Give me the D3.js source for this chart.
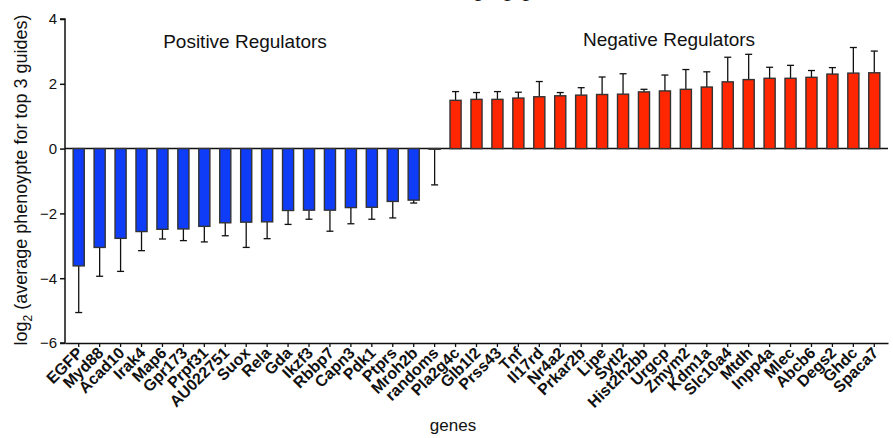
<!DOCTYPE html>
<html>
<head>
<meta charset="utf-8">
<script src="https://cdn.jsdelivr.net/npm/d3@7"></script>
<style>
  body { margin: 0; background: #fff; }
  text { font-family: "Liberation Sans", Arial, sans-serif; fill: #111; }
</style>
</head>
<body>
<div id="chart"></div>
<script>
// genes, ordered as in the plot
var genes = ["EGFP","Myd88","Acad10","Irak4","Map6","Gpr173","Prpf31","AU022751","Suox","Rela",
  "Gda","Ikzf3","Rbbp7","Capn3","Pdk1","Ptprs","Mroh2b","randoms",
  "Pla2g4c","Glb1l2","Prss43","Tnf","Il17rd","Nr4a2","Prkar2b","Lipe","Sytl2","Hist2h2bb",
  "Urgcp","Zmym2","Kdm1a","Slc10a4","Mtdh","Inpp4a","Mlec","Abcb6","Degs2","Ghdc","Spaca7"];
// mean log2 phenotype
var means = [-3.62,-3.05,-2.77,-2.56,-2.49,-2.48,-2.40,-2.29,-2.27,-2.26,
  -1.91,-1.90,-1.90,-1.82,-1.81,-1.63,-1.59,-0.02,
  1.49,1.52,1.52,1.56,1.60,1.63,1.65,1.67,1.68,1.75,
  1.78,1.83,1.90,2.06,2.13,2.17,2.17,2.20,2.30,2.33,2.34];
// error bar end (mean + sd, away from zero)
var errEnds = [-5.06,-3.94,-3.79,-3.15,-2.79,-2.84,-2.88,-2.69,-3.05,-2.78,
  -2.34,-2.18,-2.55,-2.32,-2.18,-2.14,-1.68,-1.12,
  1.76,1.73,1.76,1.74,2.07,1.73,1.88,2.21,2.31,1.83,
  2.27,2.44,2.37,2.82,2.91,2.51,2.57,2.41,2.50,3.12,3.01];
var yTicks = [-6,-4,-2,0,2,4];

(function () {
  var width = 893, height = 438;
  var left = 65, right = 888, top = 19, bottom = 343;

  var data = genes.map(function (g, i) { return { gene: g, mean: means[i], err: errEnds[i] }; });

  var svg = d3.select("#chart").append("svg").attr("width", width).attr("height", height);

  var x = d3.scaleBand().domain(genes).range([left, right]).paddingInner(0.47).paddingOuter(0.39);
  var y = d3.scaleLinear().domain([-6, 4]).range([bottom, top]);

  // title (clipped at top of the frame)
  svg.append("text").attr("x", 500).attr("y", -4).attr("text-anchor", "middle")
    .style("font-size", "22px").text("Averaging guides");

  // zero line
  svg.append("line").attr("x1", left).attr("x2", right).attr("y1", y(0)).attr("y2", y(0))
    .attr("stroke", "#111").attr("stroke-width", 1.5);

  // error bars
  var eb = svg.append("g").attr("stroke", "#111").attr("stroke-width", 1.3);
  eb.selectAll("line.v").data(data).join("line").attr("class", "v")
    .attr("x1", function (d) { return x(d.gene) + x.bandwidth() / 2; })
    .attr("x2", function (d) { return x(d.gene) + x.bandwidth() / 2; })
    .attr("y1", function (d) { return y(d.mean); })
    .attr("y2", function (d) { return y(d.err); });
  eb.selectAll("line.cap").data(data).join("line").attr("class", "cap")
    .attr("x1", function (d) { return x(d.gene) + x.bandwidth() / 2 - 3.5; })
    .attr("x2", function (d) { return x(d.gene) + x.bandwidth() / 2 + 3.5; })
    .attr("y1", function (d) { return y(d.err); })
    .attr("y2", function (d) { return y(d.err); });

  // bars
  svg.append("g").selectAll("rect").data(data).join("rect")
    .attr("x", function (d) { return x(d.gene); })
    .attr("width", x.bandwidth())
    .attr("y", function (d) { return y(Math.max(0, d.mean)); })
    .attr("height", function (d) { return Math.abs(y(d.mean) - y(0)); })
    .attr("fill", function (d) { return d.mean < 0 ? "#0f3cf7" : "#ff2600"; })
    .attr("stroke", "#333").attr("stroke-width", 1.4);

  // y axis
  var yAxis = svg.append("g").attr("transform", "translate(" + left + ",0)")
    .call(d3.axisLeft(y).tickValues(yTicks).tickSize(5).tickPadding(3).tickFormat(d3.format("d")));
  yAxis.select(".domain").attr("stroke", "#111").attr("stroke-width", 1.5).attr("d", "M-5," + top + "H0V" + bottom + "H-5");
  yAxis.selectAll(".tick line").attr("stroke", "#111").attr("stroke-width", 1.5);
  yAxis.selectAll(".tick text").style("font-size", "15px").style("font-family", "Liberation Sans, Arial, sans-serif").attr("fill", "#111");

  // x axis
  var xAxis = svg.append("g").attr("transform", "translate(0," + bottom + ")")
    .call(d3.axisBottom(x).tickSize(4).tickSizeOuter(0));
  xAxis.select(".domain").attr("stroke", "#111").attr("stroke-width", 1.5);
  xAxis.selectAll(".tick line").attr("stroke", "#111").attr("stroke-width", 1.3);
  xAxis.selectAll(".tick text")
    .attr("text-anchor", "end").attr("dy", null).attr("y", 0)
    .attr("transform", "translate(5,11) rotate(-45)")
    .style("font-size", "16px").style("font-weight", "bold")
    .style("font-family", "Liberation Sans, Arial, sans-serif").attr("fill", "#111");

  // group labels
  svg.append("text").attr("x", 245).attr("y", 48).attr("text-anchor", "middle")
    .style("font-size", "19px").text("Positive Regulators");
  svg.append("text").attr("x", 669).attr("y", 46).attr("text-anchor", "middle")
    .style("font-size", "19px").text("Negative Regulators");

  // axis titles
  svg.append("text").attr("x", 453).attr("y", 431).attr("text-anchor", "middle")
    .style("font-size", "17px").text("genes");
  var yl = svg.append("text").attr("transform", "translate(27,180) rotate(-90)")
    .attr("text-anchor", "middle").style("font-size", "18px");
  yl.append("tspan").text("log");
  yl.append("tspan").attr("dy", 5).style("font-size", "12px").text("2");
  yl.append("tspan").attr("dy", -5).text(" (average phenoypte for top 3 guides)");
})();
</script>
</body>
</html>
